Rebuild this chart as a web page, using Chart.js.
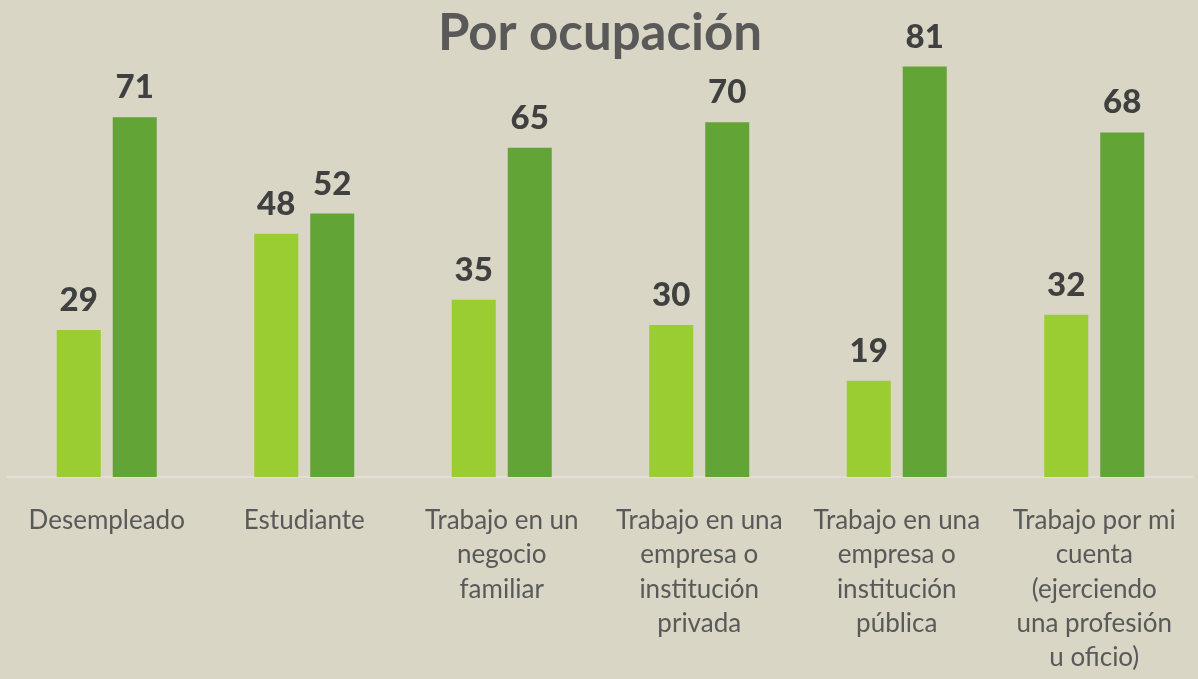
<!DOCTYPE html>
<html>
<head>
<meta charset="utf-8">
<script src="https://cdn.jsdelivr.net/npm/chart.js@4"></script>
<style>
  html, body { margin: 0; padding: 0; background: #d9d6c5; }
  #wrap { width: 1198px; height: 679px; position: relative; }
</style>
</head>
<body>
<div id="wrap"><canvas id="chart"></canvas></div>
<script>
const categories = [
  "Desempleado",
  "Estudiante",
  ["Trabajo en un", "negocio", "familiar"],
  ["Trabajo en una", "empresa o", "institución", "privada"],
  ["Trabajo en una", "empresa o", "institución", "pública"],
  ["Trabajo por mi", "cuenta", "(ejerciendo", "una profesión", "u oficio)"],
];
const lightValues = [29, 48, 35, 30, 19, 32];
const darkValues = [71, 52, 65, 70, 81, 68];
const titleText = "Por ocupación";

const textGray = "#595959";

const valueLabels = {
  id: "valueLabels",
  afterDatasetsDraw(chart) {
    const ctx = chart.ctx;
    ctx.save();
    ctx.font = "900 33px Lato, 'Open Sans', sans-serif";
    ctx.fillStyle = "#404040";
    ctx.textAlign = "center";
    ctx.textBaseline = "alphabetic";
    chart.data.datasets.forEach((ds, i) => {
      chart.getDatasetMeta(i).data.forEach((bar, j) => {
        ctx.fillText(String(ds.data[j]), bar.x, bar.y - 19);
      });
    });
    ctx.restore();
  },
};

const topTitle = {
  id: "topTitle",
  afterDraw(chart) {
    const ctx = chart.ctx;
    ctx.save();
    ctx.font = "bold 51px Lato, 'Open Sans', sans-serif";
    ctx.fillStyle = textGray;
    ctx.textAlign = "center";
    ctx.textBaseline = "alphabetic";
    ctx.fillText(titleText, 600, 50);
    ctx.restore();
  },
};

new Chart(document.getElementById("chart"), {
  type: "bar",
  data: {
    labels: categories,
    datasets: [
      {
        label: "A",
        data: lightValues,
        backgroundColor: "#9acd32",
        barPercentage: 0.786,
        categoryPercentage: 0.567,
      },
      {
        label: "B",
        data: darkValues,
        backgroundColor: "#62a536",
        barPercentage: 0.786,
        categoryPercentage: 0.567,
      },
    ],
  },
  options: {
    responsive: true,
    maintainAspectRatio: false,
    animation: false,
    layout: { padding: { top: 21, left: 8, right: 5, bottom: 0 } },
    plugins: {
      legend: { display: false },
      title: { display: false },
      tooltip: { enabled: false },
    },
    scales: {
      x: {
        grid: { display: false },
        border: { display: true, color: "#e2dfd6", width: 2 },
        ticks: {
          color: textGray,
          font: { family: "Lato, 'Open Sans', sans-serif", size: 26, lineHeight: 1.31 },
          padding: 19,
          maxRotation: 0,
          autoSkip: false,
        },
        afterFit(scale) {
          scale.height = 202;
        },
      },
      y: {
        display: false,
        min: 0,
        max: 90,
      },
    },
  },
  plugins: [valueLabels, topTitle],
});
</script>
</body>
</html>
